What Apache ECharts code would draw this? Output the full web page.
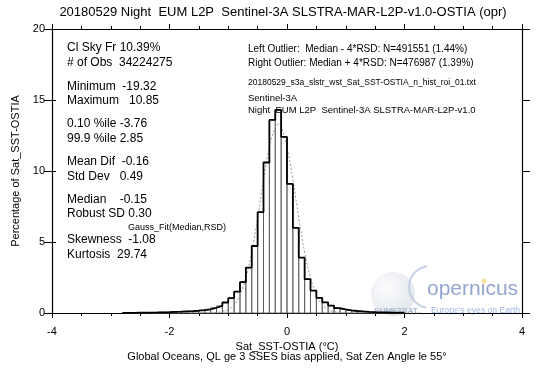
<!DOCTYPE html>
<html>
<head>
<meta charset="utf-8">
<script src="https://cdn.jsdelivr.net/npm/echarts@6/dist/echarts.min.js"></script>
<style>html,body{margin:0;padding:0;background:#fff}#c{width:542px;height:375px}</style>
</head>
<body>
<div id="c"></div>
<script>
// Histogram bins (left edges, degC) and percentage per bin
const binLeft = [-2.8,-2.7,-2.6,-2.5,-2.4,-2.3,-2.2,-2.1,-2.0,-1.9,-1.8,-1.7,-1.6,-1.5,-1.4,-1.3,-1.2,-1.1,-1.0,-0.9,-0.8,-0.7,-0.6,-0.5,-0.4,-0.3,-0.2,-0.1,0.0,0.1,0.2,0.3,0.4,0.5,0.6,0.7,0.8,0.9,1.0,1.1,1.2,1.3,1.4,1.5,1.6,1.7,1.8,1.9];
const pct = [0.01,0.015,0.02,0.025,0.032,0.04,0.05,0.06,0.075,0.09,0.11,0.13,0.16,0.2,0.26,0.37,0.5,0.74,1.05,1.5,2.18,3.2,4.72,7.1,10.6,13.6,14.3,12.4,9.1,6.0,3.9,2.38,1.58,1.06,0.75,0.52,0.34,0.25,0.19,0.14,0.11,0.085,0.065,0.05,0.04,0.03,0.025,0.02];
const binWidth = 0.1;
// Gauss fit (dotted)
const gaussX = [-2.8,-1.3,-1.2,-1.1,-1.0,-0.9,-0.8,-0.7,-0.6,-0.5,-0.4,-0.3,-0.2,-0.15,-0.1,0.0,0.1,0.2,0.3,0.4,0.5,0.6,0.7,0.8,0.9,1.0,2.3];
const gaussY = [0,0.01,0.03,0.09,0.24,0.58,1.27,2.5,4.3,6.7,9.4,11.7,13.1,13.3,13.1,11.7,9.4,6.7,4.3,2.5,1.27,0.58,0.24,0.09,0.03,0.01,0];
// Axis ticks
const xMin = -4, xMax = 4, xStep = 2;
const yMin = 0, yMax = 20, yStep = 5;

const statsLines = [
  ['Cl Sky Fr 10.39%', 48], ['# of Obs  34224275', 63],
  ['Minimum  -19.32', 87], ['Maximum   10.85', 101],
  ['0.10 %ile -3.76', 124], ['99.9 %ile 2.85', 139],
  ['Mean Dif  -0.16', 162], ['Std Dev   0.49', 177],
  ['Median    -0.15', 200], ['Robust SD 0.30', 214],
  ['Skewness  -1.08', 240], ['Kurtosis  29.74', 255]
];
const infoLines = [
  ['Left Outlier:  Median - 4*RSD: N=491551 (1.44%)', 49, 10],
  ['Right Outlier: Median + 4*RSD: N=476987 (1.39%)', 63, 10],
  ['20180529_s3a_slstr_wst_Sat_SST-OSTIA_n_hist_roi_01.txt', 83, 8.5],
  ['Sentinel-3A', 98, 9.5],
  ['Night  EUM L2P  Sentinel-3A SLSTRA-MAR-L2P-v1.0', 110, 9.5]
];

const FONT = '"Liberation Sans", Arial, Helvetica, sans-serif';
const chart = echarts.init(document.getElementById('c'), null, {renderer: 'canvas'});

const barData = binLeft.map((b, i) => [b, b + binWidth, pct[i]]);
const stepData = binLeft.map((b, i) => [b, pct[i]]);
const lastEdge = binLeft[binLeft.length - 1] + binWidth;
stepData.push([lastEdge, pct[pct.length - 1]]);
stepData.push([lastEdge, 0]);
stepData.unshift([binLeft[0], 0]);
const gaussData = gaussX.map((x, i) => [x, gaussY[i]]);

const graphics = [];
graphics.push({type: 'text', x: 283, y: 12, style: {text: '20180529 Night  EUM L2P  Sentinel-3A SLSTRA-MAR-L2P-v1.0-OSTIA (opr)', font: '13px ' + FONT, fill: '#000', align: 'center', verticalAlign: 'middle'}});
statsLines.forEach(s => graphics.push({type: 'text', x: 67, y: s[1], style: {text: s[0], font: '12px ' + FONT, fill: '#000', verticalAlign: 'middle'}}));
graphics.push({type: 'text', x: 128, y: 228, style: {text: 'Gauss_Fit(Median,RSD)', font: '9px ' + FONT, fill: '#000', verticalAlign: 'middle'}});
infoLines.forEach(s => graphics.push({type: 'text', x: 248, y: s[1], style: {text: s[0], font: s[2] + 'px ' + FONT, fill: '#000', verticalAlign: 'middle'}}));
graphics.push({type: 'text', x: 287, y: 347, style: {text: 'Sat_SST-OSTIA (°C)', font: '11px ' + FONT, fill: '#000', align: 'center', verticalAlign: 'middle'}});
graphics.push({type: 'text', x: 287, y: 357, style: {text: 'Global Oceans, QL ge 3 SSES bias applied, Sat Zen Angle le 55°', font: '11px ' + FONT, fill: '#000', align: 'center', verticalAlign: 'middle'}});
// watermark logo
graphics.push({type: 'circle', shape: {cx: 393, cy: 294, r: 22}, style: {fill: new echarts.graphic.RadialGradient(0.35, 0.35, 0.8, [{offset: 0, color: '#fbfcfd'}, {offset: 1, color: '#d9dee5'}]), opacity: 0.85}, z: 0});
graphics.push({type: 'text', x: 396, y: 311, style: {text: 'EUMETSAT', font: 'bold 8px ' + FONT, fill: '#a9b9d2', align: 'center', verticalAlign: 'middle'}});
graphics.push({type: 'arc', shape: {cx: 430, cy: 287, r: 21, startAngle: 100 * Math.PI / 180, endAngle: 262 * Math.PI / 180}, style: {stroke: '#c3d0e6', lineWidth: 2, fill: 'none'}});
graphics.push({type: 'text', x: 427, y: 289, style: {text: 'opernicus', font: '21px ' + FONT, fill: '#93a6cf', verticalAlign: 'middle'}});
graphics.push({type: 'circle', shape: {cx: 484, cy: 281, r: 2.5}, style: {fill: '#f3e39a'}});
graphics.push({type: 'text', x: 431, y: 311, style: {text: "Europe's eyes on Earth", font: '8.6px ' + FONT, fill: '#9eb7e6', verticalAlign: 'middle'}});

const axLine = {show: true, onZero: false, lineStyle: {color: '#000', width: 1.2}};
chart.setOption({
  animation: false,
  backgroundColor: '#fff',
  textStyle: {fontFamily: FONT},
  grid: {left: 52, right: 20, top: 29, bottom: 62},
  xAxis: [
    {type: 'value', min: xMin, max: xMax, interval: xStep, position: 'bottom',
     axisLine: axLine,
     axisTick: {length: 5, lineStyle: {color: '#000'}},
     minorTick: {show: true, splitNumber: 4, length: 3, lineStyle: {color: '#000'}},
     axisLabel: {color: '#000', fontSize: 11, margin: 13, fontFamily: FONT},
     splitLine: {show: false}},
    {type: 'value', min: xMin, max: xMax, interval: xStep, position: 'top',
     axisLine: axLine,
     axisTick: {length: 5, lineStyle: {color: '#000'}},
     minorTick: {show: true, splitNumber: 4, length: 3, lineStyle: {color: '#000'}},
     axisLabel: {show: false}, splitLine: {show: false}}
  ],
  yAxis: [
    {type: 'value', min: yMin, max: yMax, interval: yStep, position: 'left',
     name: 'Percentage of Sat_SST-OSTIA', nameLocation: 'middle', nameGap: 30,
     nameTextStyle: {color: '#000', fontSize: 11, fontFamily: FONT},
     axisLine: axLine,
     axisTick: {show: true, length: 8, lineStyle: {color: '#000'}},
     axisLabel: {color: '#000', fontSize: 11, margin: 7, fontFamily: FONT},
     splitLine: {show: false}},
    {type: 'value', min: yMin, max: yMax, interval: yStep, position: 'right',
     axisLine: axLine,
     axisTick: {show: true, length: 8, lineStyle: {color: '#000'}},
     axisLabel: {show: false}, splitLine: {show: false}},
    {type: 'value', min: yMin, max: yMax, interval: yStep, position: 'left',
     axisLine: {show: false, onZero: false},
     axisTick: {show: true, inside: true, length: 4, lineStyle: {color: '#000'}},
     axisLabel: {show: false}, splitLine: {show: false}}
  ],
  series: [
    {type: 'custom', xAxisIndex: 0, yAxisIndex: 0, data: barData, encode: {x: [0, 1], y: 2}, z: 2,
     renderItem: function (params, api) {
       const p0 = api.coord([api.value(0), api.value(2)]);
       const p1 = api.coord([api.value(1), 0]);
       return {type: 'rect', shape: {x: p0[0], y: p0[1], width: p1[0] - p0[0], height: p1[1] - p0[1]},
               style: {fill: 'none', stroke: '#555', lineWidth: 0.8}};
     }},
    {type: 'line', xAxisIndex: 0, yAxisIndex: 0, data: gaussData, smooth: 0.4, showSymbol: false, symbol: 'none', z: 3,
     lineStyle: {color: '#999', width: 1, type: [2, 2]}},
    {type: 'line', xAxisIndex: 0, yAxisIndex: 0, data: stepData, step: 'end', showSymbol: false, symbol: 'none', z: 4,
     lineStyle: {color: '#000', width: 1.8}}
  ],
  graphic: graphics
});
</script>
</body>
</html>
